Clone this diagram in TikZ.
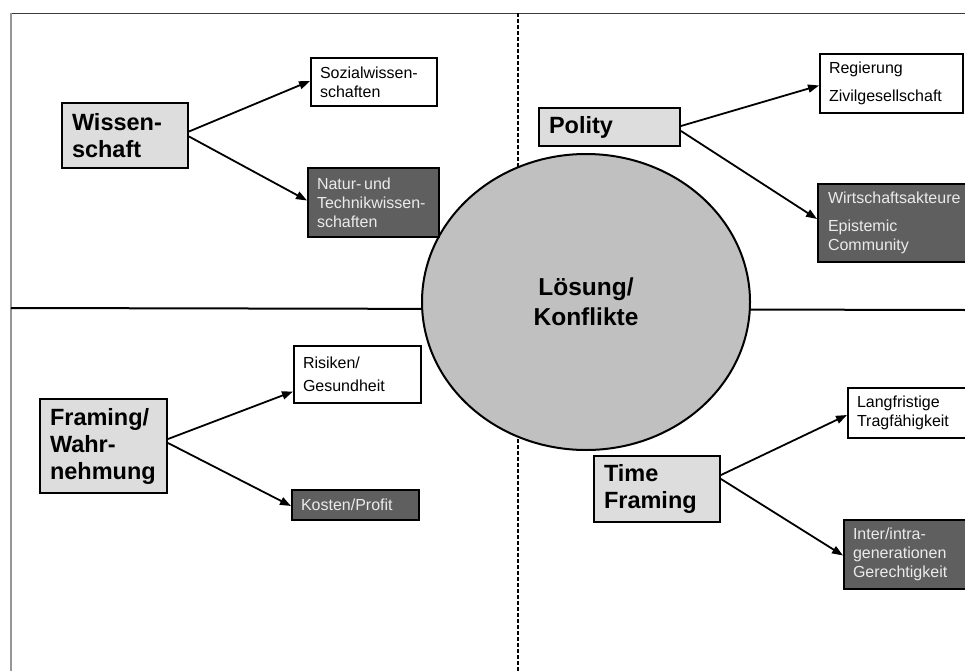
\documentclass[tikz,border=0pt]{standalone}
\usepackage{fontspec}
\setmainfont{Liberation Sans}
\usetikzlibrary{shapes.geometric,arrows.meta}
\definecolor{lightfill}{RGB}{221,221,221}
\definecolor{darkfill}{RGB}{95,95,95}
\definecolor{circfill}{RGB}{192,192,192}
\definecolor{lighttext}{RGB}{235,235,235}
\definecolor{framegray}{RGB}{150,150,150}
\definecolor{framedark}{RGB}{60,60,60}
\begin{document}
\begin{tikzpicture}[x=1pt,y=-1pt,
  mainbox/.style={draw, line width=2pt, fill=lightfill, anchor=north west, align=left,
    inner xsep=10pt, inner ysep=0pt, font=\fontsize{23.5}{27}\selectfont\bfseries},
  whitebox/.style={draw, line width=2pt, fill=white, anchor=north west, align=left,
    inner xsep=9pt, inner ysep=0pt, font=\fontsize{16}{19}\selectfont},
  shadebox/.style={whitebox, fill=darkfill, text=lighttext},
  arr/.style={line width=1.8pt, -{Triangle[length=11pt,width=8pt]}},
  divider/.style={line width=2pt},
  dashdiv/.style={line width=1.5pt, dash pattern=on 4pt off 2pt},
]
\clip (0,0) rectangle (965,671);
\fill[white] (0,0) rectangle (965,671);
% frame
\coordinate (ftl) at (11,13);
\coordinate (ftr) at (965,13);
\coordinate (fbl) at (11,671);
\draw[framedark, line width=0.9pt] (ftl) -- (ftr);
\draw[framegray, line width=1.8pt] (ftl) -- (fbl);
% dividers
\coordinate (hl) at (11,308);
\coordinate (hr) at (965,310);
\coordinate (vt) at (518,13);
\coordinate (vb) at (518,671);
\draw[divider] (hl) -- (hr);
\draw[dashdiv] (vt) -- (vb);
% centre ellipse
\node[ellipse, draw, line width=2pt, fill=circfill, minimum width=328pt, minimum height=296pt,
  align=center, font=\fontsize{24.5}{30}\selectfont\bfseries] (C) at (586,302) {Lösung/\\Konflikte};
% Wissenschaft
\node[mainbox, text width=106pt, minimum height=65pt] (W) at (61,102) {Wissen-\\schaft};
\node[whitebox, text width=108pt, minimum height=48pt] (S) at (310,57) {Sozialwissen-\\schaften};
\node[shadebox, text width=113pt, minimum height=69pt] (N) at (307,167) {Natur-\,und\\Technikwissen-\\schaften};
% Polity
\node[mainbox, text width=121pt, minimum height=38pt] (P) at (538,107) {Polity};
\node[whitebox, text width=125pt, minimum height=59pt] (R) at (819,53) {Regierung\\[9pt]Zivilgesellschaft};
\node[shadebox, inner xsep=10pt, text width=140pt, minimum height=78pt] (E) at (817,183) {Wirtschaftsakteure\\[9pt]Epistemic\\Community};
% Framing
\node[mainbox, text width=107pt, minimum height=94pt] (F) at (39,398) {Framing/\\Wahr-\\nehmung};
\node[whitebox, text width=109pt, minimum height=57pt] (Ri) at (293,345) {Risiken/\\[4pt]Gesundheit};
\node[shadebox, text width=109pt, minimum height=30pt] (K) at (291,489) {Kosten/Profit};
% Time Framing
\node[mainbox, text width=106pt, minimum height=66pt] (T) at (593,455) {Time\\Framing};
\node[whitebox, text width=132pt, minimum height=50pt] (L) at (847,387) {Langfristige\\Tragfähigkeit};
\node[shadebox, text width=132pt, minimum height=69pt] (I) at (843,519) {Inter/intra-\\generationen\\Gerechtigkeit};
% arrows
\draw[arr] ([yshift=4pt]W.east) -- ([yshift=1pt]S.west);
\draw[arr] ([yshift=-1pt]W.east) -- ([yshift=2pt]N.west);
\draw[arr] ([yshift=1pt]P.east) -- ([yshift=-2pt]R.west);
\draw[arr] ([yshift=-4pt]P.east) -- ([yshift=4pt]E.west);
\draw[arr] ([yshift=7pt]F.east) -- ([yshift=-17pt]Ri.west);
\draw[arr] ([yshift=3pt]F.east) -- ([yshift=-1pt]K.west);
\draw[arr] ([yshift=14pt]T.east) -- ([yshift=-2pt]L.west);
\draw[arr] ([yshift=10pt]T.east) -- ([yshift=-1pt]I.west);
\end{tikzpicture}
\end{document}
